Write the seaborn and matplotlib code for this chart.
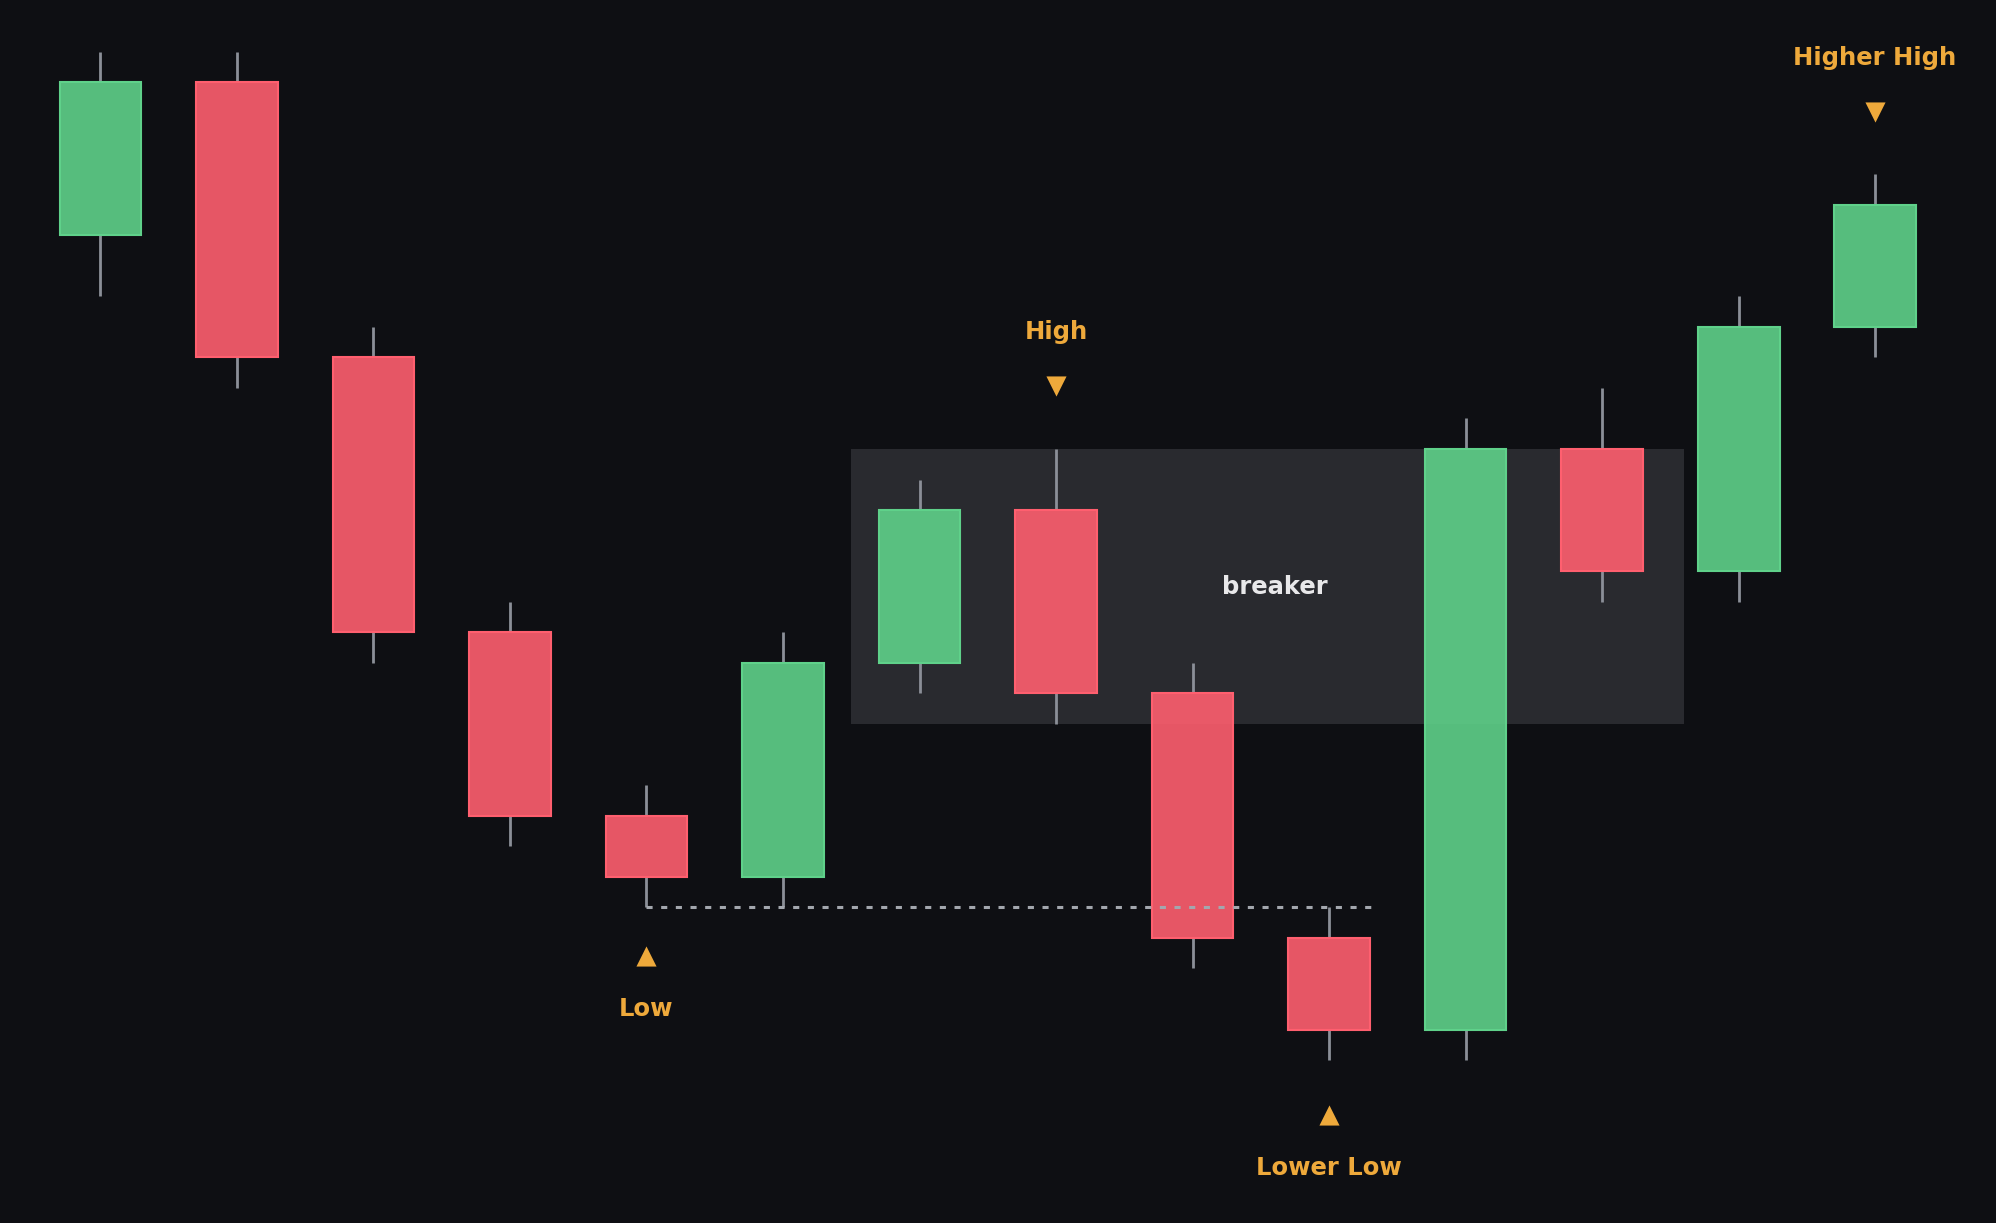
import numpy as np
import pandas as pd
import seaborn as sns
import matplotlib
matplotlib.use("Agg")
import matplotlib.pyplot as plt
from matplotlib.patches import Rectangle

# ---- data (price levels) ----
candle_idx = list(range(14))
opens  = [127, 132, 123, 114, 108, 106, 113, 118, 112, 104, 101, 120, 116, 124]
highs  = [133, 133, 124, 115, 109, 114, 119, 120, 113, 105, 121, 122, 125, 129]
lows   = [125, 122, 113, 107, 105, 105, 112, 111, 103, 100, 100, 115, 115, 123]
closes = [132, 123, 114, 108, 106, 113, 118, 112, 104, 101, 120, 116, 124, 128]

# breaker zone
zone_x = [5.5, 11.6]
zone_y = [111, 120]
zone_label = "breaker"
zone_label_pos = (8.6, 115.5)

# swing-point annotations: (candle index, label, kind)
swing_idx = [7, 13, 4, 9]
swing_labels = ["High", "Higher High", "Low", "Lower Low"]
swing_kind = ["high", "high", "low", "low"]
marker_offset = [2.05, 2.03, -1.6, -1.78]
text_offset = [3.6, 3.58, -3.55, -3.73]

# liquidity line (dotted) from swing low
liq_start = 4
liq_end = 9.35
liq_level = 105

# ---- styling ----
BG = "#0e0f13"
GREEN = "#5fd18a"
RED = "#ff5f6f"
WICK = "#8b8f98"
ORANGE = "#eea93b"
ZONE = "#292a2f"

sns.set_theme(style="dark", rc={
    "figure.facecolor": BG,
    "axes.facecolor": BG,
})
plt.rcParams["font.family"] = ["DejaVu Sans"]

df = pd.DataFrame({"i": candle_idx, "open": opens, "high": highs,
                   "low": lows, "close": closes})
df["up"] = df["close"] >= df["open"]
df["body_lo"] = np.minimum(df["open"], df["close"])
df["body_hi"] = np.maximum(df["open"], df["close"])

fig = plt.figure(figsize=(19.96, 12.235), dpi=100)
ax = fig.add_axes([0, 0, 1, 1])
ax.set_facecolor(BG)

# zone
ax.add_patch(Rectangle((zone_x[0], zone_y[0]), zone_x[1] - zone_x[0],
                       zone_y[1] - zone_y[0], facecolor=ZONE,
                       edgecolor="none", zorder=1))

# wicks (upper and lower segments, not passing behind the body)
ax.vlines(df["i"], df["body_hi"], df["high"], color=WICK, linewidth=2, zorder=2)
ax.vlines(df["i"], df["low"], df["body_lo"], color=WICK, linewidth=2, zorder=2)

# bodies
colors = [GREEN if u else RED for u in df["up"]]
for xi, b, t, c in zip(df["i"], df["body_lo"], df["body_hi"], colors):
    ax.bar(xi, t - b, bottom=b, width=0.6,
           color=matplotlib.colors.to_rgba(c, 0.9),
           edgecolor=c, linewidth=1.5, zorder=3)

# dotted liquidity line
ax.plot([liq_start, liq_end], [liq_level, liq_level], color="#a3a7ae",
        linewidth=2.2, linestyle=(0, (2, 2.8)), zorder=4)

# zone label
ax.text(zone_label_pos[0], zone_label_pos[1], zone_label, color="#e8e8ea",
        fontsize=17.5, fontweight="bold", ha="center", va="center", zorder=5)

# swing annotations
for idx, lab, kind, mo, to in zip(swing_idx, swing_labels, swing_kind,
                                  marker_offset, text_offset):
    base = highs[idx] if kind == "high" else lows[idx]
    mk = "v" if kind == "high" else "^"
    ax.scatter([idx], [base + mo], marker=mk, s=210, color=ORANGE,
               linewidths=0, zorder=6)
    ax.text(idx, base + to, lab, color=ORANGE, fontsize=17.5,
            fontweight="bold", ha="center", va="baseline", zorder=6)

ax.set_xlim(-0.736, 13.886)
ax.set_ylim(100 - 5.33, 100 + 34.71)
ax.set_axis_off()

fig.savefig("out.png", dpi=100, facecolor=BG)
